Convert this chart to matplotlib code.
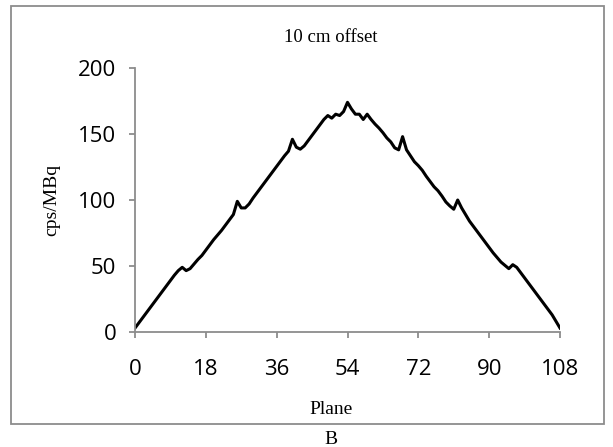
import numpy as np
import matplotlib.pyplot as plt
from matplotlib.patches import Rectangle

# counts per plane, 10 cm offset
planes = np.arange(0, 109)
cps = [3, 7, 11, 15, 19, 23, 27, 31, 35, 39,
       43, 46.5, 49, 46.5, 48, 51.5, 55, 58, 62, 66,
       70, 73.5, 77, 81, 85, 89, 99, 94, 94, 97,
       101.5, 105.5, 109.5, 113.5, 117.5, 121.5, 125.5, 129.5, 133.5, 137,
       146, 140, 138.5, 141, 145, 149, 153, 157, 161, 164,
       162, 165, 164, 167, 174, 169, 165, 165, 161, 165,
       161, 157.5, 154.5, 151, 147, 144, 139.5, 138, 148, 138,
       133.5, 129, 126, 122.5, 118, 114, 110, 107, 103, 98.5,
       95.5, 93, 100, 94, 89, 84, 80, 76, 72, 68,
       64, 60, 56.5, 53, 50.5, 48, 51, 49, 45, 41,
       37, 33, 29, 25, 21, 17, 13, 8, 3]
xticks = [0, 18, 36, 54, 72, 90, 108]
yticks = [0, 50, 100, 150, 200]

W, H = 613, 447
fig = plt.figure(figsize=(W / 100, H / 100), dpi=100)
ax = fig.add_axes([135 / W, 1 - 332 / H, (560 - 135) / W, (332 - 68) / H])

ax.plot(planes, cps, color='black', lw=2.2, solid_joinstyle='round')

ax.set_xlim(0, 108)
ax.set_ylim(0, 200)
ax.set_xticks(xticks)
ax.set_yticks(yticks)

grey = '#8c8c8c'
for s in ['top', 'right']:
    ax.spines[s].set_visible(False)
for s in ['left', 'bottom']:
    ax.spines[s].set_color(grey)
    ax.spines[s].set_linewidth(1.3)
ax.tick_params(colors=grey, length=4.5, width=1.3, direction='out')
ax.tick_params(axis='x', pad=15, labelcolor='black', labelsize=16)
ax.tick_params(axis='y', pad=9, labelcolor='black', labelsize=16)
for lab in ax.get_xticklabels() + ax.get_yticklabels():
    lab.set_family('Open Sans')

serif = 'Liberation Serif'
fig.text(331 / W, 1 - 38 / H, '10 cm offset', ha='center', va='center',
         family=serif, fontsize=13.5)
fig.text(52 / W, 1 - 200 / H, 'cps/MBq', ha='center', va='center',
         rotation=90, family=serif, fontsize=14)
fig.text(331 / W, 1 - 410 / H, 'Plane', ha='center', va='center',
         family=serif, fontsize=14)
fig.text(331 / W, 1 - 439 / H, 'B', ha='center', va='center',
         family=serif, fontsize=14)

# chart frame
fig.patches.append(Rectangle((11 / W, 1 - 424 / H), (604 - 11) / W, (424 - 6) / H,
                             transform=fig.transFigure, fill=False,
                             edgecolor=grey, lw=1.3))

fig.savefig('out.png', dpi=100)
